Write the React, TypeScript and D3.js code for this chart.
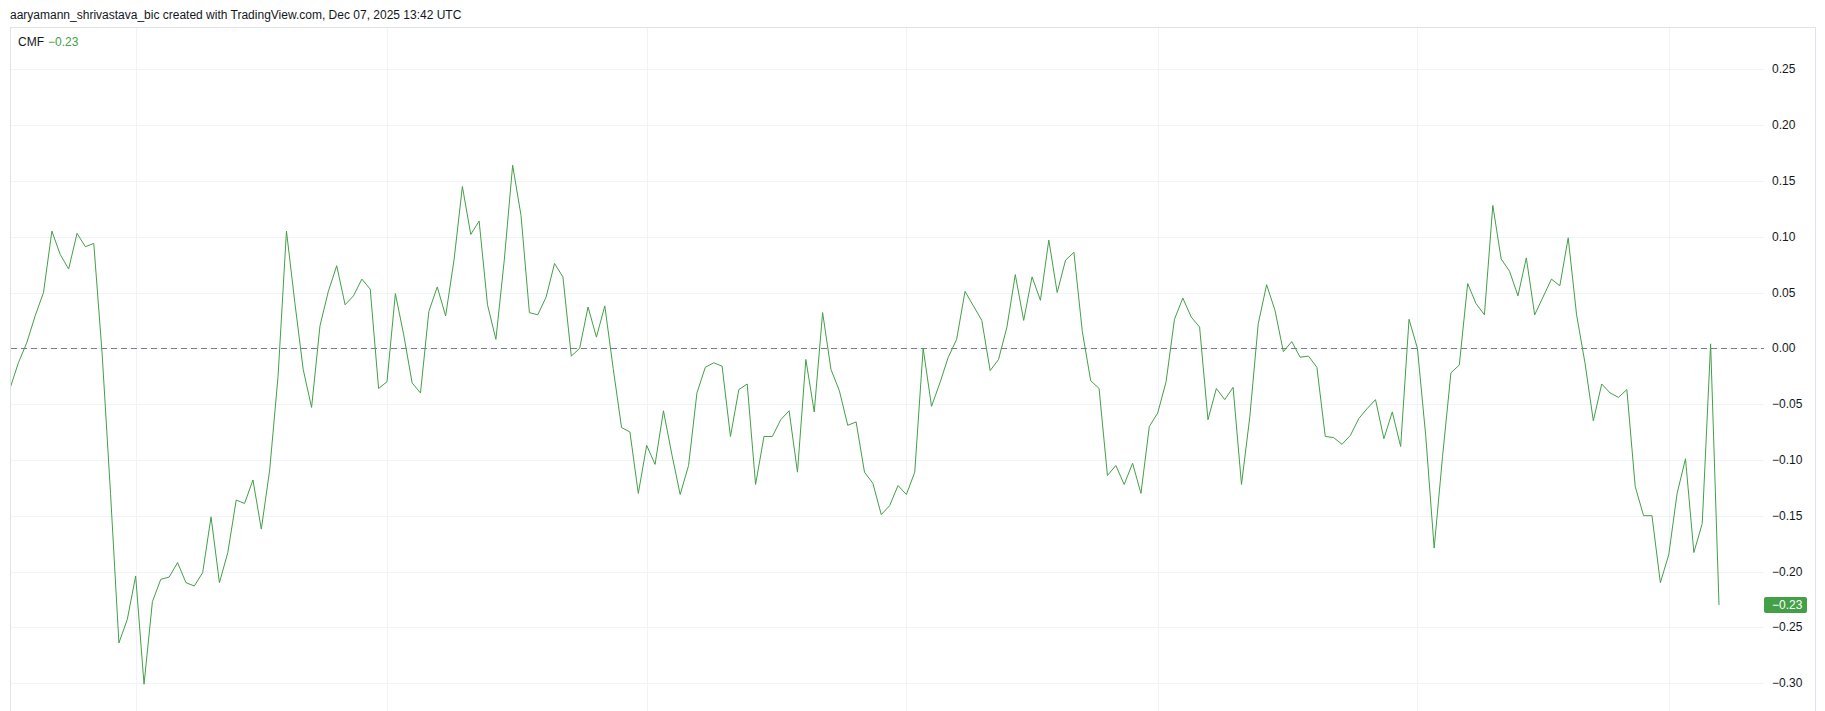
import * as d3 from 'd3';

// Chaikin Money Flow, daily, 17 May 2025 – 7 Dec 2025
const firstDay = new Date(Date.UTC(2025, 4, 17));

const mayValues = [
  -0.036, -0.013, 0.005, 0.029, 0.05, 0.105, 0.084, 0.071, 0.103, 0.091, 0.094, -0.005, -0.13, -0.264, -0.243,
];
const junValues = [
  -0.204, -0.301, -0.227, -0.207, -0.205, -0.192, -0.21, -0.213, -0.201, -0.151, -0.21, -0.183, -0.136, -0.139,
  -0.118, -0.162, -0.109, -0.025, 0.105, 0.041, -0.019, -0.053, 0.02, 0.051, 0.074, 0.039, 0.047, 0.062, 0.053,
  -0.036,
];
const julValues = [
  -0.03, 0.049, 0.012, -0.031, -0.04, 0.033, 0.055, 0.029, 0.079, 0.145, 0.102, 0.114, 0.039, 0.008, 0.079, 0.164,
  0.119, 0.032, 0.03, 0.046, 0.076, 0.064, -0.007, 0.0, 0.037, 0.01, 0.038, -0.018, -0.071, -0.075, -0.13,
];
const augValues = [
  -0.087, -0.104, -0.056, -0.095, -0.131, -0.105, -0.04, -0.017, -0.013, -0.016, -0.079, -0.037, -0.032, -0.122,
  -0.079, -0.079, -0.064, -0.056, -0.111, -0.01, -0.057, 0.032, -0.019, -0.038, -0.069, -0.066, -0.111, -0.121,
  -0.149, -0.141, -0.123,
];
const sepValues = [
  -0.131, -0.111, 0.0, -0.052, -0.031, -0.008, 0.008, 0.051, 0.038, 0.025, -0.02, -0.01, 0.019, 0.066, 0.025, 0.064,
  0.043, 0.097, 0.05, 0.079, 0.086, 0.015, -0.029, -0.036, -0.114, -0.105, -0.122, -0.103, -0.13, -0.07,
];
const octValues = [
  -0.058, -0.03, 0.026, 0.045, 0.028, 0.019, -0.064, -0.036, -0.046, -0.035, -0.122, -0.061, 0.022, 0.057, 0.034,
  -0.003, 0.006, -0.008, -0.007, -0.017, -0.079, -0.08, -0.086, -0.078, -0.063, -0.054, -0.046, -0.081, -0.057,
  -0.088, 0.026,
];
const novValues = [
  0.0, -0.079, -0.179, -0.097, -0.022, -0.015, 0.058, 0.04, 0.03, 0.128, 0.08, 0.069, 0.047, 0.081, 0.03, 0.046,
  0.062, 0.056, 0.099, 0.03, -0.013, -0.065, -0.032, -0.04, -0.044, -0.037, -0.124, -0.15, -0.15, -0.21,
];
const decValues = [-0.185, -0.13, -0.099, -0.183, -0.157, 0.004, -0.23];

const cmfValues = [
  ...mayValues, ...junValues, ...julValues, ...augValues, ...sepValues, ...octValues, ...novValues, ...decValues,
];

const yTicks = [0.25, 0.2, 0.15, 0.1, 0.05, 0, -0.05, -0.1, -0.15, -0.2, -0.25, -0.3];

const headerText = 'aaryamann_shrivastava_bic created with TradingView.com, Dec 07, 2025 13:42 UTC';
const seriesName = 'CMF';

const width = 1825;
const height = 711;
const paneLeft = 10;
const paneTop = 27;
const paneRight = 1815;
const plotRight = 1764;
const lastBarX = 1719;

const lineColor = '#43a047';
const gridColor = '#f0f3fa';
const textColor = '#131722';
const font = "'Liberation Sans', Arial, sans-serif";

export default function App() {
  const points = cmfValues.map((v, i) => ({ date: d3.utcDay.offset(firstDay, i), value: v }));
  const last = points[points.length - 1];

  const x = d3.scaleUtc().domain([points[0].date, last.date]).range([paneLeft, lastBarX]);
  const y = d3.scaleLinear().domain([-0.3, 0.25]).range([683.1, 69.3]);

  const monthStarts = d3.utcMonth.range(d3.utcMonth.ceil(points[0].date), last.date);
  const fmt = d3.format('.2f');

  const line = d3
    .line<{ date: Date; value: number }>()
    .x((d) => x(d.date))
    .y((d) => y(d.value));

  return (
    <svg
      width={width}
      height={height}
      style={{ position: 'absolute', left: 0, top: 0, background: '#fff' }}
      fontFamily={font}
    >
      <rect width={width} height={height} fill="#fff" />

      <text x={10} y={19} fontSize={12} fill={textColor}>
        {headerText}
      </text>

      {/* pane frame */}
      <line x1={paneLeft} x2={paneRight} y1={paneTop + 0.5} y2={paneTop + 0.5} stroke="#e0e3eb" />
      <line x1={paneLeft + 0.5} x2={paneLeft + 0.5} y1={paneTop} y2={height} stroke="#e0e3eb" />
      <line x1={paneRight + 0.5} x2={paneRight + 0.5} y1={paneTop} y2={height} stroke="#e0e3eb" />

      <defs>
        <clipPath id="plot-clip">
          <rect x={paneLeft + 1} y={paneTop + 1} width={plotRight - paneLeft - 1} height={height - paneTop} />
        </clipPath>
      </defs>

      {/* grid */}
      <g>
        {yTicks.map((t) => (
          <line
            key={t}
            x1={paneLeft + 1}
            x2={plotRight}
            y1={Math.round(y(t)) + 0.5}
            y2={Math.round(y(t)) + 0.5}
            stroke={gridColor}
          />
        ))}
        {monthStarts.map((m) => (
          <line
            key={m.toISOString()}
            x1={Math.round(x(m)) + 0.5}
            x2={Math.round(x(m)) + 0.5}
            y1={paneTop + 1}
            y2={height}
            stroke={gridColor}
          />
        ))}
      </g>

      {/* zero line */}
      <line
        x1={paneLeft + 1}
        x2={plotRight}
        y1={Math.round(y(0)) + 0.5}
        y2={Math.round(y(0)) + 0.5}
        stroke="#787b86"
        strokeDasharray="6 4"
      />

      <path d={line(points) ?? ''} fill="none" stroke={lineColor} strokeWidth={1} clipPath="url(#plot-clip)" />

      {/* legend */}
      <text x={18} y={46} fontSize={12} fill={textColor}>
        {seriesName}
      </text>
      <text x={48} y={46} fontSize={12} fill={lineColor}>
        {fmt(last.value)}
      </text>

      {/* price scale */}
      <g fontSize={12} fill={textColor}>
        {yTicks.map((t) => (
          <text key={t} x={1772} y={y(t)} dominantBaseline="central">
            {fmt(t)}
          </text>
        ))}
      </g>

      <rect x={1764} y={Math.round(y(last.value)) - 8} width={43} height={16} rx={2} fill={lineColor} />
      <text x={1772} y={y(last.value)} dominantBaseline="central" fontSize={12} fill="#fff">
        {fmt(last.value)}
      </text>
    </svg>
  );
}
